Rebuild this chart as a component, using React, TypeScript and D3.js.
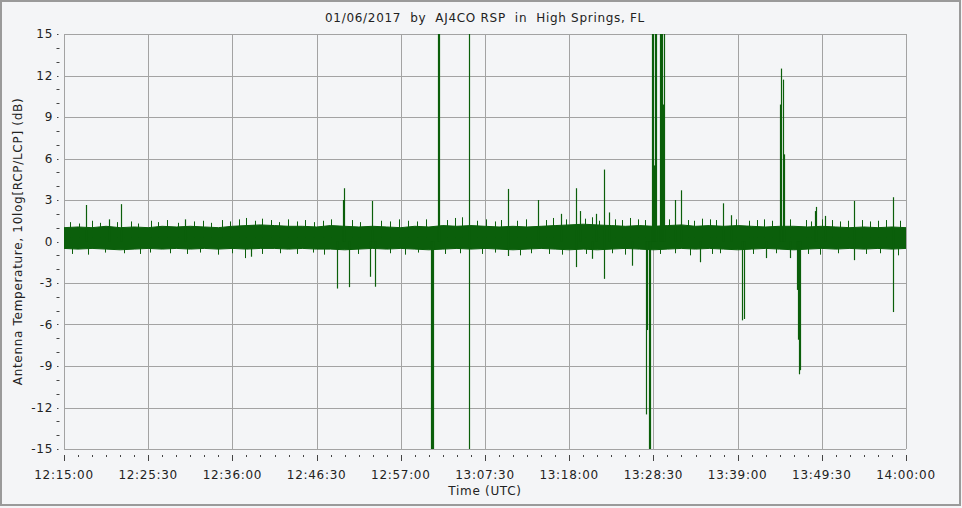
import React from "react";
import * as d3 from "d3";

const TITLE = "01/06/2017  by  AJ4CO RSP  in  High Springs, FL";
const Y_LABEL = "Antenna Temperature, 10log[RCP/LCP] (dB)";
const X_LABEL = "Time (UTC)";

const xTickLabels = ["12:15:00", "12:25:30", "12:36:00", "12:46:30", "12:57:00", "13:07:30", "13:18:00", "13:28:30", "13:39:00", "13:49:30", "14:00:00"];
const yTickValues = [-15, -12, -9, -6, -3, 0, 3, 6, 9, 12, 15];

// noise band envelope, one sample every 1:45 (minutes after 12:15:00)
const bandStep = 1.75;
const bandHigh = [1.0, 1.05, 1.0, 1.1, 1.0, 1.05, 1.0, 1.1, 1.05, 1.1, 1.05, 1.0, 1.1, 1.15, 1.2, 1.15, 1.1, 1.1, 1.05, 1.15, 1.1, 1.05, 1.1, 1.05, 1.0, 1.1, 1.05, 1.15, 1.1, 1.15, 1.1, 1.05, 1.1, 1.05, 1.1, 1.15, 1.2, 1.25, 1.2, 1.15, 1.1, 1.15, 1.1, 1.15, 1.2, 1.1, 1.15, 1.1, 1.15, 1.1, 1.05, 1.1, 1.1, 1.05, 1.1, 1.05, 1.0, 1.05, 1.0, 1.05, 1.0];
const bandLow = [-0.5, -0.55, -0.5, -0.55, -0.6, -0.55, -0.5, -0.55, -0.5, -0.55, -0.5, -0.55, -0.5, -0.55, -0.5, -0.5, -0.55, -0.5, -0.55, -0.55, -0.6, -0.55, -0.5, -0.55, -0.5, -0.55, -0.6, -0.55, -0.5, -0.55, -0.5, -0.55, -0.6, -0.55, -0.5, -0.55, -0.6, -0.55, -0.6, -0.55, -0.5, -0.55, -0.6, -0.55, -0.5, -0.55, -0.5, -0.55, -0.6, -0.55, -0.5, -0.55, -0.6, -0.55, -0.5, -0.55, -0.5, -0.55, -0.5, -0.55, -0.5];

// small excursions just outside the band (minutes after 12:15:00, dB)
const fringeUpTimes = [0.75, 1.87, 3.49, 4.49, 6.61, 8.35, 9.23, 10.85, 11.72, 12.84, 14.22, 16.21, 17.33, 18.33, 19.7, 20.7, 21.82, 22.7, 23.82, 24.69, 25.81, 26.81, 27.93, 29.05, 30.05, 31.17, 32.3, 33.29, 35.91, 36.91, 39.53, 40.65, 41.77, 42.9, 44.02, 45.14, 47.76, 48.76, 49.63, 51.5, 52.62, 53.75, 54.49, 56.49, 57.61, 60.11, 60.98, 62.6, 64.97, 65.84, 66.71, 68.71, 69.58, 70.58, 71.58, 72.45, 75.44, 77.81, 78.56, 79.56, 80.56, 81.3, 83.8, 85.42, 86.42, 87.29, 88.29, 90.53, 92.53, 93.15, 94.52, 95.77, 96.77, 97.77, 99.51, 100.51, 101.51, 102.5, 104.25];
const fringeUpValues = [1.4, 1.3, 1.5, 1.35, 1.4, 1.45, 1.3, 1.5, 1.4, 1.55, 1.35, 1.45, 1.5, 1.35, 1.55, 1.45, 1.6, 1.7, 1.5, 1.65, 1.55, 1.4, 1.6, 1.45, 1.55, 1.4, 1.5, 1.6, 1.55, 1.4, 1.5, 1.45, 1.6, 1.5, 1.45, 1.6, 1.55, 1.7, 1.75, 1.5, 1.6, 1.45, 1.55, 1.5, 1.6, 1.55, 1.7, 1.6, 1.65, 1.75, 1.5, 1.6, 1.55, 1.7, 1.6, 1.55, 1.6, 1.55, 1.5, 1.65, 1.6, 1.55, 1.6, 1.5, 1.55, 1.6, 1.5, 1.6, 1.55, 1.45, 1.6, 1.55, 1.45, 1.5, 1.55, 1.45, 1.5, 1.55, 1.5];
const fringeDownTimes = [1.0, 2.99, 5.11, 7.48, 9.48, 10.72, 13.22, 15.34, 16.96, 19.2, 20.95, 22.57, 24.69, 26.94, 29.05, 31.05, 32.42, 36.66, 40.65, 42.52, 44.14, 47.51, 49.38, 52.12, 53.75, 56.86, 58.23, 60.48, 62.1, 65.09, 68.34, 69.96, 74.32, 76.19, 78.06, 80.81, 81.8, 85.92, 88.79, 92.78, 94.27, 96.52, 100.01, 101.76, 104.0];
const fringeDownValues = [-0.9, -0.95, -0.8, -0.85, -0.9, -0.8, -0.85, -0.9, -0.8, -0.95, -0.85, -1.2, -0.9, -0.85, -0.9, -0.8, -0.95, -0.9, -0.85, -0.95, -0.8, -0.9, -0.85, -0.9, -0.8, -1.0, -0.85, -0.9, -0.95, -0.9, -0.85, -0.95, -0.9, -0.85, -1.0, -0.9, -0.85, -0.9, -0.85, -0.9, -0.95, -0.85, -0.9, -0.85, -1.0];

// isolated spikes: time (minutes after 12:15:00), peak high and low (dB)
const spikeTimes = [2.71, 5.61, 7.15, 15.09, 23.28, 34.08, 34.79, 34.95, 35.58, 38.2, 38.45, 38.82, 45.77, 45.89, 46.01, 46.6, 46.8, 50.54, 55.43, 59.15, 61.94, 63.84, 64.39, 65.88, 66.34, 67.3, 67.97, 70.87, 72.58, 72.7, 72.89, 73.08, 73.33, 73.45, 73.58, 73.7, 73.83, 74.32, 74.45, 74.57, 74.7, 74.82, 76.18, 76.97, 79.28, 82.22, 83.14, 84.55, 84.8, 87.49, 89.29, 89.41, 89.66, 89.79, 90.48, 91.44, 91.53, 91.66, 91.78, 93.65, 93.81, 94.89, 98.52, 103.41];
const spikeHigh = [2.64, 1.6, 2.7, 1.6, 0, 0, 3.0, 3.85, 0, 0, 2.93, 0, 0, 0, 0, 15, 15, 15, 3.8, 3.0, 2.0, 3.85, 2.2, 0, 2.0, 5.2, 2.1, 0, 0, 0, 0, 0, 15, 15, 5.5, 15, 15, 15, 15, 15, 9.9, 15, 3.0, 3.7, 0, 2.76, 1.9, 0, 0, 0, 9.9, 12.5, 11.7, 6.3, 0, 0, 0, 0, 0, 2.2, 2.5, 1.85, 2.93, 3.2];
const spikeLow = [0, 0, 0, 0, -1.1, -3.4, 0, 0, -3.3, -2.55, 0, -3.27, -15, -15, -15, 0, 0, -15, -1.05, 0, 0, -1.85, 0, -1.25, 0, -2.7, 0, -1.75, -12.5, -6.4, -15, -15, 0, 0, 0, 0, 0, 0, 0, 0, 0, 0, 0, 0, -1.5, 0, 0, -5.7, -5.6, -1.2, 0, 0, 0, 0, -1.2, -3.5, -7.1, -9.6, -9.3, 0, 0, 0, -1.35, -5.1];

const W = 962;
const H = 508;
const PL = 64, PR = 906, PT = 34, PB = 449;
const FONT = "DejaVu Sans, Verdana, sans-serif";
const GREEN = "#0b5f0b";
const GRID = "#a3a3a3";
const LS = 0.7;

const toMin = (s: string) => {
  const [h, m, sec] = s.split(":").map(Number);
  return h * 60 + m + sec / 60 - (12 * 60 + 15);
};

export default function App() {
  const xTicks = xTickLabels.map(toMin);
  const x = d3.scaleLinear().domain([xTicks[0], xTicks[xTicks.length - 1]]).range([PL, PR]);
  const y = d3.scaleLinear().domain([-15, 15]).range([PB, PT]);
  const px = (t: number) => Math.round(x(t)) + 0.5;

  const minorX: number[] = [];
  for (let i = 0; i < xTicks.length - 1; i++) {
    const step = (xTicks[i + 1] - xTicks[i]) / 6;
    for (let k = 1; k < 6; k++) minorX.push(xTicks[i] + step * k);
  }
  const minorY: number[] = [];
  for (let i = 0; i < yTickValues.length - 1; i++) {
    minorY.push(yTickValues[i] + 1, yTickValues[i] + 2);
  }

  const band = bandHigh.map((h, i) => ({ t: i * bandStep, h, l: bandLow[i] }));
  const area = d3
    .area<{ t: number; h: number; l: number }>()
    .x((d) => x(d.t))
    .y0((d) => y(d.l))
    .y1((d) => y(d.h))
    .curve(d3.curveLinear);

  const spikes = spikeTimes.map((t, i) => ({ t, h: spikeHigh[i], l: spikeLow[i] }));
  const fringe = [
    ...fringeUpTimes.map((t, i) => ({ t, h: fringeUpValues[i], l: 0.3 })),
    ...fringeDownTimes.map((t, i) => ({ t, h: 0.3, l: fringeDownValues[i] })),
  ];

  return (
    <svg width={W} height={H} style={{ position: "absolute", left: 0, top: 0, background: "#f4f5f7" }} fontFamily={FONT}>
      <rect x={0} y={0} width={W} height={H} fill="#f4f5f7" />
      <rect x={1} y={1} width={959} height={504} fill="none" stroke="#9a9a9a" strokeWidth={2} />
      <defs>
        <clipPath id="plotclip">
          <rect x={PL} y={PT} width={PR - PL} height={PB - PT} />
        </clipPath>
      </defs>
      {xTicks.map((t, i) => (
        <line key={"gx" + i} x1={px(t)} x2={px(t)} y1={PT} y2={PB} stroke={GRID} strokeWidth={1} />
      ))}
      {yTickValues.map((v, i) => (
        <line key={"gy" + i} x1={PL} x2={PR} y1={Math.round(y(v)) + 0.5} y2={Math.round(y(v)) + 0.5} stroke={GRID} strokeWidth={1} />
      ))}
      <g clipPath="url(#plotclip)">
        <path d={area(band) || ""} fill={GREEN} stroke={GREEN} strokeWidth={1} />
        {fringe.map((s, i) => (
          <line key={"f" + i} x1={px(s.t)} x2={px(s.t)} y1={y(s.l)} y2={y(s.h)} stroke={GREEN} strokeWidth={1} />
        ))}
        {spikes.map((s, i) => (
          <line key={"s" + i} x1={px(s.t)} x2={px(s.t)} y1={y(s.l)} y2={y(s.h)} stroke={GREEN} strokeWidth={1.2} />
        ))}
      </g>
      {yTickValues.map((v, i) => (
        <g key={"yt" + i}>
          <rect x={57} y={Math.round(y(v))} width={1.5} height={1} fill="#444" />
          <text x={53} y={y(v)} dy="0.35em" textAnchor="end" fontSize={12} fill="#222" letterSpacing={LS}>
            {v}
          </text>
        </g>
      ))}
      {minorY.map((v, i) => (
        <rect key={"my" + i} x={56.5} y={Math.round(y(v))} width={3} height={1} fill="#444" />
      ))}
      {xTicks.map((t, i) => (
        <g key={"xt" + i}>
          <line x1={px(t)} x2={px(t)} y1={455} y2={461} stroke="#444" strokeWidth={1} />
          <text x={x(t)} y={475} dy="0.35em" textAnchor="middle" fontSize={12} fill="#222" letterSpacing={LS}>
            {xTickLabels[i]}
          </text>
        </g>
      ))}
      {minorX.map((t, i) => (
        <line key={"mx" + i} x1={px(t)} x2={px(t)} y1={455} y2={457} stroke="#444" strokeWidth={1} />
      ))}
      <text x={(PL + PR) / 2} y={18} dy="0.35em" textAnchor="middle" fontSize={12} fill="#222" letterSpacing={LS} style={{ whiteSpace: "pre" }}>
        {TITLE}
      </text>
      <text x={(PL + PR) / 2} y={491} dy="0.35em" textAnchor="middle" fontSize={12} fill="#222" letterSpacing={LS}>
        {X_LABEL}
      </text>
      <text transform={`translate(18,${(PT + PB) / 2}) rotate(-90)`} dy="0.35em" textAnchor="middle" fontSize={12} fill="#222" letterSpacing={LS}>
        {Y_LABEL}
      </text>
    </svg>
  );
}
